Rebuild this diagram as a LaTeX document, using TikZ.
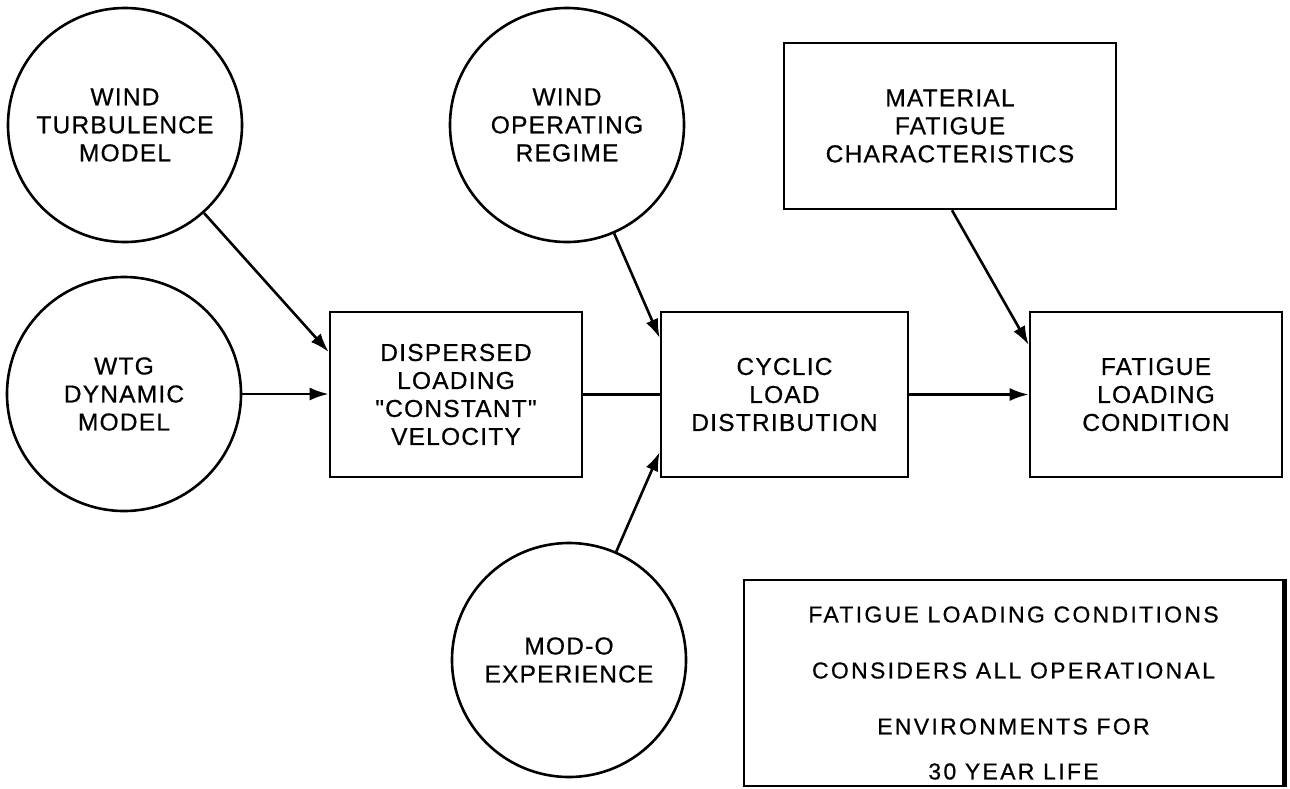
\documentclass[tikz,border=0pt]{standalone}
\usepackage{fontspec}
\setmainfont{Liberation Sans}[Ligatures=TeXOff]
\usetikzlibrary{arrows.meta,calc}
\newcommand{\lettfont}{\fontsize{24.5}{28}\selectfont\addfontfeature{LetterSpace=5,FakeBold=0.6}}
\newcommand{\notefont}{\fontsize{23}{56}\selectfont\addfontfeature{LetterSpace=10,FakeBold=0.6}}
\begin{document}
\begin{tikzpicture}[x=1pt,y=-1pt,
  lw/.style={line width=2.6pt},
  circ/.style={circle,draw,lw,minimum size=234pt,inner sep=0pt,align=center,font=\lettfont},
  blk/.style={rectangle,draw,lw,inner sep=0pt,align=center,font=\lettfont},
  arr/.style={lw,-{Latex[length=19pt,width=13pt]}},
  ln/.style={lw}]
\useasboundingbox (0,0) rectangle (1290,788);

% circles
\node[circ] (wt)   at (125,125) {WIND\\TURBULENCE\\MODEL};
\node[circ] (wtg)  at (124,394) {WTG\\DYNAMIC\\MODEL};
\node[circ] (wor)  at (567,125) {WIND\\OPERATING\\REGIME};
\node[circ] (modo) at (569,660) {MOD-O\\EXPERIENCE};

% boxes
\node[blk,minimum width=252pt,minimum height=165pt] (disp) at (456,394.5) {DISPERSED\\LOADING\\"CONSTANT"\\VELOCITY};
\node[blk,minimum width=247pt,minimum height=165pt] (cyc)  at (784.5,394.5) {CYCLIC\\LOAD\\DISTRIBUTION};
\node[blk,minimum width=252pt,minimum height=165pt] (fat)  at (1156,394.5) {FATIGUE\\LOADING\\CONDITION};
\node[blk,minimum width=332pt,minimum height=166pt] (mat)  at (950,126) {MATERIAL\\FATIGUE\\CHARACTERISTICS};

% note box
\node[rectangle,draw,lw,minimum width=539pt,minimum height=206pt,inner sep=0pt] (note) at (1013.5,683) {};
\draw[line width=4.5pt] (note.north east) -- (note.south east);
\node[align=center,font=\notefont,inner sep=0pt] (notetext) at (1013.5,693)
  {FATIGUE LOADING CONDITIONS\\CONSIDERS ALL OPERATIONAL\\ENVIRONMENTS FOR\\[-11pt]30 YEAR LIFE};

% connector end points
\coordinate (dispin1) at ([yshift=42.5pt]disp.west);
\coordinate (cycin1)  at ([yshift=56.5pt]cyc.west);
\coordinate (cycin2)  at ([yshift=-57.5pt]cyc.west);
\coordinate (fatin)   at ([yshift=49.5pt]fat.west);
\coordinate (matout)  at ([xshift=2pt]mat.south);

% connectors
\draw[arr] (wt) -- (dispin1);
\draw[arr] (wtg.east) -- (wtg.east -| disp.west);
\draw[ln]  (disp.east) -- (disp.east -| cyc.west);
\draw[arr] (wor) -- (cycin1);
\draw[arr] (modo) -- (cycin2);
\draw[arr] (cyc.east) -- (cyc.east -| fat.west);
\draw[arr] (matout) -- (fatin);
\end{tikzpicture}
\end{document}
